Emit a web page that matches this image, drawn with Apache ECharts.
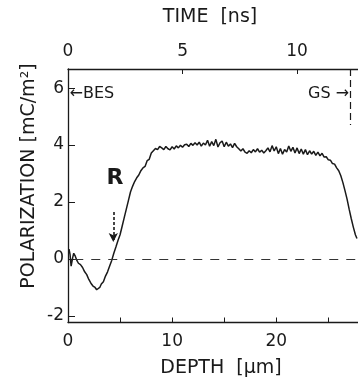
<!DOCTYPE html>
<html>
<head>
<meta charset="utf-8">
<script src="https://cdn.jsdelivr.net/npm/echarts@6/dist/echarts.min.js"></script>
<style>
  html, body { margin: 0; padding: 0; background: #fff; }
  #chart { width: 358px; height: 385px; }
</style>
</head>
<body>
<div id="chart"></div>
<script>
// depth in um, polarization in mC/m^2
var depthUm = [
  0.1, 0.2, 0.3, 0.38, 0.45, 0.55, 0.7, 0.85, 1.0, 1.2, 1.4, 1.6, 1.8, 2.0, 2.2, 2.4, 2.6, 2.75, 2.9, 3.05,
  3.2, 3.4, 3.6, 3.8, 4.0, 4.2, 4.4, 4.6, 4.8, 5.0, 5.2, 5.4, 5.6, 5.8, 6.0, 6.2, 6.4, 6.6, 6.8, 7.0,
  7.2, 7.4, 7.6, 7.8, 8.0, 8.2, 8.4, 8.6, 8.8, 9.0, 9.2, 9.4, 9.6, 9.8, 10.0, 10.2, 10.4, 10.6, 10.8, 11.0,
  11.2, 11.4, 11.6, 11.8, 12.0, 12.2, 12.4, 12.6, 12.8, 13.0, 13.2, 13.4, 13.6, 13.8, 14.0, 14.2, 14.4, 14.6, 14.8, 15.0,
  15.2, 15.4, 15.6, 15.8, 16.0, 16.2, 16.4, 16.6, 16.8, 17.0, 17.2, 17.4, 17.6, 17.8, 18.0, 18.2, 18.4, 18.6, 18.8, 19.0,
  19.2, 19.4, 19.6, 19.8, 20.0, 20.2, 20.4, 20.6, 20.8, 21.0, 21.2, 21.4, 21.6, 21.8, 22.0, 22.2, 22.4, 22.6, 22.8, 23.0,
  23.2, 23.4, 23.6, 23.8, 24.0, 24.2, 24.4, 24.6, 24.8, 25.0, 25.2, 25.4, 25.6, 25.8, 26.0, 26.2, 26.4, 26.6, 26.8, 27.0,
  27.2, 27.4, 27.6, 27.75
];
var polarization = [
  0.35, 0.15, -0.25, -0.3, 0.05, 0.2, 0.1, -0.05, -0.15, -0.2, -0.3, -0.45, -0.55, -0.72, -0.85, -0.95, -1.0, -1.08, -1.02, -1.0,
  -0.88, -0.8, -0.6, -0.45, -0.25, -0.05, 0.2, 0.42, 0.65, 0.85, 1.15, 1.45, 1.75, 2.05, 2.35, 2.55, 2.72, 2.85, 2.95, 3.1,
  3.2, 3.25, 3.45, 3.5, 3.72, 3.8, 3.88, 3.84, 3.95, 3.9, 3.84, 3.95, 3.87, 3.83, 3.94, 3.86, 3.97, 3.9, 3.99, 3.92,
  4.01, 4.03, 3.95, 4.06, 3.99, 4.08, 4.0, 4.1, 3.96, 4.07, 4.0, 4.17, 3.96, 4.12, 3.98, 4.2, 3.93, 4.08, 4.14, 3.94,
  4.1, 3.96, 4.04, 3.91, 4.06, 3.94, 3.87, 3.79, 3.87, 3.75, 3.71, 3.8, 3.73, 3.84, 3.76, 3.87, 3.75, 3.82, 3.72, 3.8,
  3.9, 3.76, 3.98, 3.79, 3.94, 3.7, 3.88, 3.68, 3.84, 3.76, 3.97, 3.78, 3.92, 3.72, 3.9, 3.7, 3.86, 3.68, 3.84, 3.66,
  3.8, 3.68, 3.78, 3.64, 3.75, 3.62, 3.71, 3.58, 3.59, 3.48, 3.47, 3.35, 3.33, 3.2, 3.1, 2.92, 2.68, 2.4, 2.1, 1.75,
  1.42, 1.12, 0.85, 0.72
];

var depthTicks = [0, 5, 10, 15, 20, 25];
var depthLabels = [0, 10, 20];
var timeTicks = [5, 10];
var timeLabels = [0, 5, 10];
var polTicks = [-2, 0, 2, 4, 6];

var depthMax = 27.85, timeMax = 12.66;
var polMin = -2.23, polMax = 6.67;
var gsDepth = 27.1, gsLineEnd = 4.7;
var rArrow = [4.35, 1.65, 0.6];   // depth, from, to
var rLabel = [4.52, 2.84];
var besAt = [0.15, 5.8], gsAt = [27.0, 5.8];

var ink = '#1a1a1a';
var fontFam = '"DejaVu Sans", sans-serif';

var points = depthUm.map(function (d, i) { return [d, polarization[i]]; });

var zeroStyle = { type: [9, 8], width: 1.1, color: '#333' };
var gsStyle = { type: [7, 4], width: 1.2, color: ink };
var arrowStyle = { type: [3, 2], width: 1.6, color: ink };

var chart = echarts.init(document.getElementById('chart'));
var option = {
  animation: false,
  backgroundColor: '#fff',
  grid: { left: 68, right: 0, top: 69, bottom: 62.5, outerBoundsMode: 'none', containLabel: false },
  graphic: [
    { type: 'text', style: { text: 'TIME  [ns]', x: 210, y: 17, align: 'center', verticalAlign: 'middle', font: '19px ' + fontFam, fill: ink } },
    { type: 'text', style: { text: 'DEPTH  [µm]', x: 221, y: 368, align: 'center', verticalAlign: 'middle', font: '19px ' + fontFam, fill: ink } },
    { type: 'text', x: 29, y: 176, rotation: Math.PI / 2, style: { text: 'POLARIZATION [mC/m²]', x: 0, y: 0, align: 'center', verticalAlign: 'middle', font: '19px ' + fontFam, fill: ink } }
  ],
  xAxis: [
    {
      type: 'value', position: 'bottom', min: 0, max: depthMax,
      axisLine: { show: true, onZero: false, lineStyle: { color: ink, width: 1.3 } },
      axisTick: { show: true, inside: true, length: 5, customValues: depthTicks, lineStyle: { color: ink } },
      axisLabel: { customValues: depthLabels, margin: 11, fontSize: 17, fontFamily: fontFam, color: ink },
      splitLine: { show: false }
    },
    {
      type: 'value', position: 'top', min: 0, max: timeMax,
      axisLine: { show: true, onZero: false, lineStyle: { color: ink, width: 1.3 } },
      axisTick: { show: true, inside: true, length: 5, customValues: timeTicks, lineStyle: { color: ink } },
      axisLabel: { customValues: timeLabels, margin: 9, fontSize: 17, fontFamily: fontFam, color: ink },
      splitLine: { show: false }
    }
  ],
  yAxis: {
    type: 'value', min: polMin, max: polMax,
    axisLine: { show: true, onZero: false, lineStyle: { color: ink, width: 1.3 } },
    axisTick: { show: true, inside: true, length: 7, customValues: polTicks, lineStyle: { color: ink } },
    axisLabel: { customValues: polTicks, margin: 4, fontSize: 17, fontFamily: fontFam, color: ink },
    splitLine: { show: false }
  },
  series: [{
    type: 'line',
    xAxisIndex: 0,
    data: points,
    showSymbol: false,
    z: 3,
    lineStyle: { color: ink, width: 1.5 },
    markLine: {
      silent: true,
      label: { show: false },
      lineStyle: zeroStyle,
      data: [
        [{ coord: [0.6, 0], symbol: 'none', lineStyle: zeroStyle }, { coord: [depthMax, 0], symbol: 'none', lineStyle: zeroStyle }],
        [{ coord: [gsDepth, polMax], symbol: 'none', lineStyle: gsStyle }, { coord: [gsDepth, gsLineEnd], symbol: 'none', lineStyle: gsStyle }],
        [{ coord: [rArrow[0], rArrow[1]], symbol: 'none', lineStyle: arrowStyle }, { coord: [rArrow[0], rArrow[2]], symbol: 'arrow', symbolSize: [7, 9], lineStyle: arrowStyle }]
      ]
    },
    markPoint: {
      silent: true,
      symbolSize: 0,
      data: [
        { coord: besAt, label: { show: true, position: 'right', distance: 0, formatter: '←BES', fontSize: 16, fontFamily: fontFam, color: ink } },
        { coord: gsAt, label: { show: true, position: 'left', distance: 0, formatter: 'GS →', fontSize: 16, fontFamily: fontFam, color: ink } },
        { coord: rLabel, label: { show: true, position: 'inside', formatter: 'R', fontSize: 22, fontWeight: 'bold', fontFamily: fontFam, color: ink } }
      ]
    }
  }]
};
chart.setOption(option);
</script>
</body>
</html>
